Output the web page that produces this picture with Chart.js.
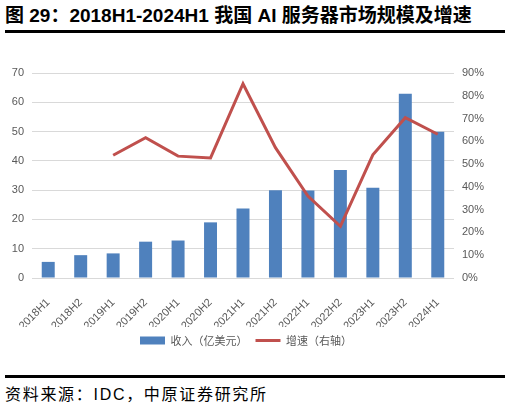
<!DOCTYPE html>
<html>
<head>
<meta charset="utf-8">
<script src="https://cdn.jsdelivr.net/npm/chart.js@4.4.0/dist/chart.umd.min.js"></script>
<style>
  body { margin: 0; background: #fff; width: 510px; height: 409px; position: relative; overflow: hidden; }
  .title { position: absolute; left: 5px; top: 5px; font: bold 19px/22px "Liberation Sans", "Noto Sans CJK SC", sans-serif; color: #000; white-space: nowrap; }
  .rule { position: absolute; left: 5px; width: 500px; height: 3px; background: #000; }
  .source { position: absolute; left: 5px; top: 386px; font: 16px/18px "Liberation Sans", "Noto Sans CJK SC", sans-serif; letter-spacing: 1.7px; color: #000; white-space: nowrap; }
  .wrap { position: absolute; left: 0; top: 40px; width: 510px; height: 325px; }
</style>
</head>
<body>
<div class="title">图 29：2018H1-2024H1 我国 AI 服务器市场规模及增速</div>
<div class="rule" style="top:30px"></div>
<div class="wrap"><canvas id="chart"></canvas></div>
<div class="rule" style="top:375px"></div>
<div class="source">资料来源：IDC，中原证券研究所</div>

<script>
// 数据
var categories = ["2018H1", "2018H2", "2019H1", "2019H2", "2020H1", "2020H2", "2021H1",
    "2021H2", "2022H1", "2022H2", "2023H1", "2023H2", "2024H1"];
var revenue = [5.5, 7.8, 8.4, 12.4, 12.8, 19.0, 23.7, 30.0, 29.9, 36.9, 30.8, 62.9, 49.9];
var growth = [null, null, 0.539, 0.616, 0.535, 0.527, 0.853, 0.572, 0.360, 0.227, 0.541, 0.704, 0.631];
var leftTicks = [0, 70, 10];
var rightTicks = [0, 0.9, 0.1];

var tickFont = { family: "Liberation Sans", size: 11 };
var gray = "#595959";

document.addEventListener("DOMContentLoaded", function () {
    var ctx = document.getElementById("chart").getContext("2d");

    new Chart(ctx, {
        data: {
            labels: categories,
            datasets: [{
                type: "line",
                label: "增速（右轴）",
                data: growth,
                yAxisID: "y1",
                borderColor: "#C0504D",
                backgroundColor: "#C0504D",
                borderWidth: 3,
                pointRadius: 0,
                pointStyle: "line",
                tension: 0,
                order: 1
            }, {
                type: "bar",
                label: "收入（亿美元）",
                data: revenue,
                yAxisID: "y",
                backgroundColor: "#4F81BD",
                borderWidth: 0,
                pointStyle: "rect",
                barPercentage: 0.4,
                categoryPercentage: 1,
                order: 2
            }]
        },
        options: {
            responsive: true,
            maintainAspectRatio: false,
            animation: false,
            layout: { padding: { top: 33, right: 18, left: 0, bottom: 9 } },
            plugins: {
                tooltip: { enabled: false },
                legend: {
                    position: "bottom",
                    reverse: true,
                    labels: {
                        usePointStyle: true,
                        pointStyleWidth: 25,
                        boxHeight: 8,
                        padding: 8,
                        color: gray,
                        font: { family: "Noto Sans CJK SC", size: 11 }
                    }
                }
            },
            scales: {
                x: {
                    grid: { display: false },
                    border: { display: false },
                    ticks: { color: gray, font: tickFont, minRotation: 45, maxRotation: 45, padding: 10 },
                    afterFit: function (s) { s.height = 49; }
                },
                y: {
                    position: "left",
                    min: leftTicks[0],
                    max: leftTicks[1],
                    ticks: { stepSize: leftTicks[2], color: gray, font: tickFont, padding: 8 },
                    grid: { color: "#D9D9D9", drawTicks: false },
                    border: { display: false },
                    afterFit: function (s) { s.width = 32; }
                },
                y1: {
                    position: "right",
                    min: rightTicks[0],
                    max: rightTicks[1],
                    ticks: {
                        stepSize: rightTicks[2],
                        color: gray,
                        font: tickFont,
                        padding: 8,
                        callback: function (v) { return Math.round(v * 100) + "%"; }
                    },
                    grid: { display: false, drawTicks: false },
                    border: { display: false },
                    afterFit: function (s) { s.width = 38; }
                }
            }
        }
    });
});
</script>
</body>
</html>
